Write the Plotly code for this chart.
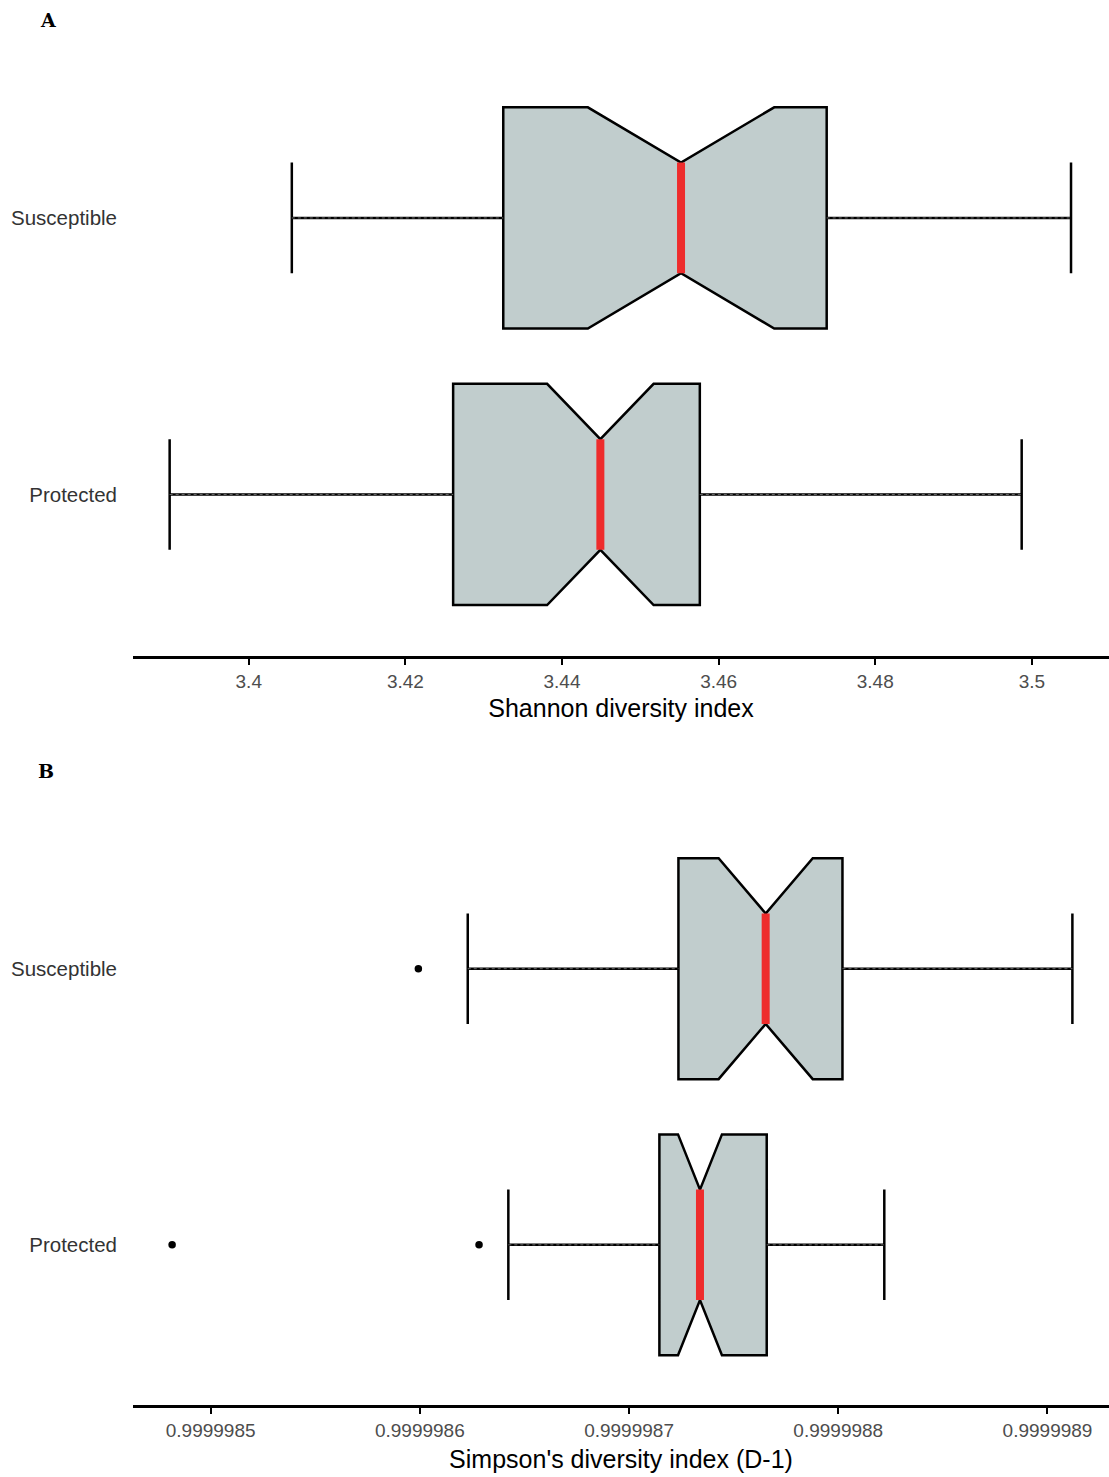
import plotly.graph_objects as go

# ---------------- data ----------------
groups = ["Protected", "Susceptible"]
group_pos = [1, 2]

shannon_lower = [3.3899, 3.4055]
shannon_q1 = [3.4261, 3.4325]
shannon_median = [3.4449, 3.4552]
shannon_q3 = [3.4576, 3.4738]
shannon_upper = [3.4987, 3.5050]
shannon_notch = [0.0068, 0.0119]

simpson_lower = [0.9999986423, 0.9999986229]
simpson_q1 = [0.9999987145, 0.9999987236]
simpson_median = [0.9999987339, 0.9999987653]
simpson_q3 = [0.9999987658, 0.9999988020]
simpson_upper = [0.9999988220, 0.9999989119]
simpson_notch = [0.0000000105, 0.0000000225]
simpson_outliers = {
    "Protected": [0.9999984816, 0.9999986283],
    "Susceptible": [0.9999985993],
}

# ---------------- style ----------------
FILL = "#C1CDCD"
RED = "#EE2C2C"
BOX_W = 0.8
W, H = 1109, 1477

fig = go.Figure()


def add_panel(xa, ya, lower, q1, med, q3, upper, notch):
    for i, g in enumerate(groups):
        p = group_pos[i]
        fig.add_trace(go.Box(
            y=[p], q1=[q1[i]], median=[med[i]], q3=[q3[i]],
            lowerfence=[lower[i]], upperfence=[upper[i]],
            notchspan=[notch[i]], notched=True, notchwidth=0.25,
            orientation="h", width=BOX_W, whiskerwidth=0.5,
            fillcolor=FILL, line=dict(color="black", width=2.5),
            boxpoints=False, showlegend=False, hoverinfo="skip",
            xaxis=xa, yaxis=ya,
        ))
        # dotted look of whiskers
        for a, b in [(lower[i], q1[i]), (q3[i], upper[i])]:
            fig.add_trace(go.Scatter(
                x=[a, b], y=[p, p], mode="lines",
                line=dict(color="rgba(255,255,255,0.4)", width=1, dash="dot"),
                showlegend=False, hoverinfo="skip", xaxis=xa, yaxis=ya,
            ))
        # red median between the notch apexes
        fig.add_trace(go.Scatter(
            x=[med[i], med[i]], y=[p - BOX_W / 4, p + BOX_W / 4],
            mode="lines", line=dict(color=RED, width=8),
            showlegend=False, hoverinfo="skip", xaxis=xa, yaxis=ya,
        ))


add_panel("x", "y", shannon_lower, shannon_q1, shannon_median, shannon_q3,
          shannon_upper, shannon_notch)
add_panel("x2", "y2", simpson_lower, simpson_q1, simpson_median, simpson_q3,
          simpson_upper, simpson_notch)

for i, g in enumerate(groups):
    vals = simpson_outliers[g]
    fig.add_trace(go.Scatter(
        x=vals, y=[group_pos[i]] * len(vals), mode="markers",
        marker=dict(color="black", size=7.5),
        showlegend=False, hoverinfo="skip", xaxis="x2", yaxis="y2",
    ))

SANS = "Liberation Sans, Arial, sans-serif"
TICKFONT = dict(family=SANS, size=19, color="#4D4D4D")
TITLEFONT = dict(family=SANS, size=25, color="black")
YFONT = dict(family=SANS, size=20.5, color="#333333")

xcommon = dict(
    showline=True, linecolor="black", linewidth=3,
    ticks="outside", ticklen=6, tickwidth=2, tickcolor="black",
    showgrid=False, zeroline=False, tickfont=TICKFONT, automargin=False,
)
ycommon = dict(
    tickvals=group_pos, ticktext=groups,
    showline=False, showgrid=False, zeroline=False, ticks="",
    tickfont=YFONT, automargin=False, ticklabelstandoff=15,
)


def ydom(top_px, bottom_px):
    return [1 - bottom_px / H, 1 - top_px / H]


fig.update_layout(
    width=W, height=H,
    margin=dict(l=133, r=0, t=0, b=0),
    paper_bgcolor="white", plot_bgcolor="white",
    xaxis=dict(**xcommon, anchor="y", range=[3.38522, 3.50985],
               tick0=3.4, dtick=0.02,
               title=dict(text="Shannon diversity index", font=TITLEFONT, standoff=9)),
    yaxis=dict(**ycommon, anchor="x", domain=ydom(52, 656), range=[0.416, 2.6]),
    xaxis2=dict(**xcommon, anchor="y2", range=[0.99999846290, 0.99999892940],
                tick0=0.9999985, dtick=0.0000001, tickformat=".7f",
                title=dict(text="Simpson's diversity index (D-1)", font=TITLEFONT, standoff=11)),
    yaxis2=dict(**ycommon, anchor="x2", domain=ydom(803, 1405), range=[0.42, 2.6]),
    annotations=[
        dict(text="<b>A</b>", xref="paper", yref="paper",
             x=(48 - 133) / (W - 133), y=1 - 20 / H, showarrow=False,
             xanchor="center", yanchor="middle",
             font=dict(family="DejaVu Serif, serif", size=19, color="black")),
        dict(text="<b>B</b>", xref="paper", yref="paper",
             x=(46 - 133) / (W - 133), y=1 - 771 / H, showarrow=False,
             xanchor="center", yanchor="middle",
             font=dict(family="DejaVu Serif, serif", size=19, color="black")),
    ],
)

fig.write_html("out.html")
